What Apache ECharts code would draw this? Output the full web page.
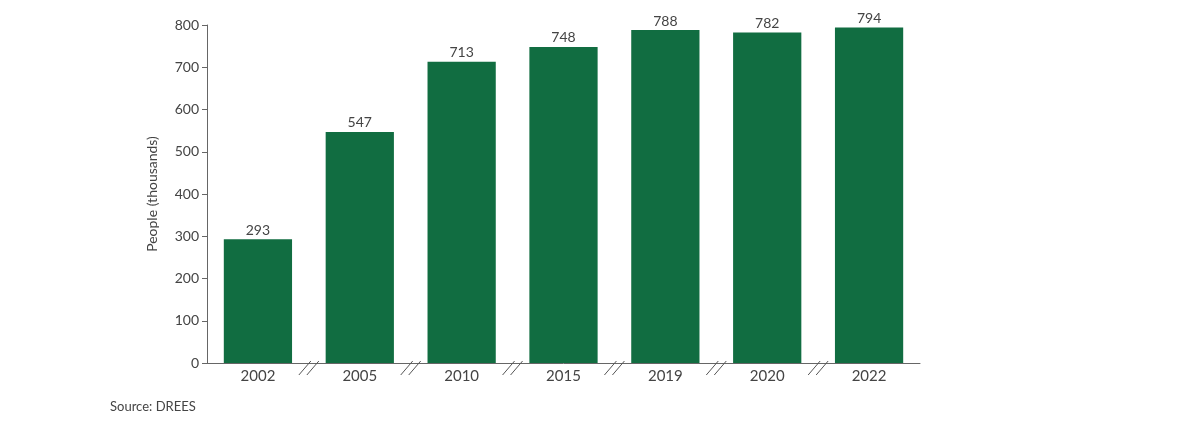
<!DOCTYPE html><html><head><meta charset="utf-8"><script src="https://cdn.jsdelivr.net/npm/echarts@6/dist/echarts.min.js"></script></head><body style="margin:0"><div id="c" style="width:1192px;height:434px"></div><script>
const categories=['2002','2005','2010','2015','2019','2020','2022'];
const values=[293,547,713,748,788,782,794];
const breaks=[0,1,2,3,4,5];
const c=echarts.init(document.getElementById('c'));
const txt='#444';
c.setOption({
 textStyle:{fontFamily:'Lato'},
 grid:{left:207,right:272,top:25,bottom:71},
 xAxis:{type:'category',data:categories,axisTick:{show:false},axisLine:{lineStyle:{color:'#666'}},axisLabel:{color:txt,fontSize:15,margin:6}},
 yAxis:{type:'value',min:0,max:800,interval:100,name:'People (thousands)',nameLocation:'middle',nameGap:48,nameTextStyle:{color:txt,fontSize:14},
  axisLine:{show:true,lineStyle:{color:'#666'}},axisTick:{show:true,length:5,lineStyle:{color:'#666'}},splitLine:{show:false},axisLabel:{color:txt,fontSize:14}},
 graphic:[{type:'text',left:110,top:400,style:{text:'Source: DREES',fill:txt,font:'13px Lato'}}],
 series:[{type:'bar',data:values,barWidth:'67%',itemStyle:{color:'#116d41'},label:{show:true,position:'top',color:txt,fontSize:14,distance:2}},
 {type:'custom',data:breaks,silent:true,renderItem:(p,api)=>{const i=api.value(0);const pt=api.coord([i,0]);const w=api.size([1,0])[0];const x=pt[0]+w/2,y=pt[1];
  return {type:'group',children:[-4,4].map(d=>({type:'line',shape:{x1:x+d-6,y1:y+12,x2:x+d+6,y2:y-2},style:{stroke:'#555',lineWidth:1}}))};},encode:{x:0}}]
});
</script></body></html>
